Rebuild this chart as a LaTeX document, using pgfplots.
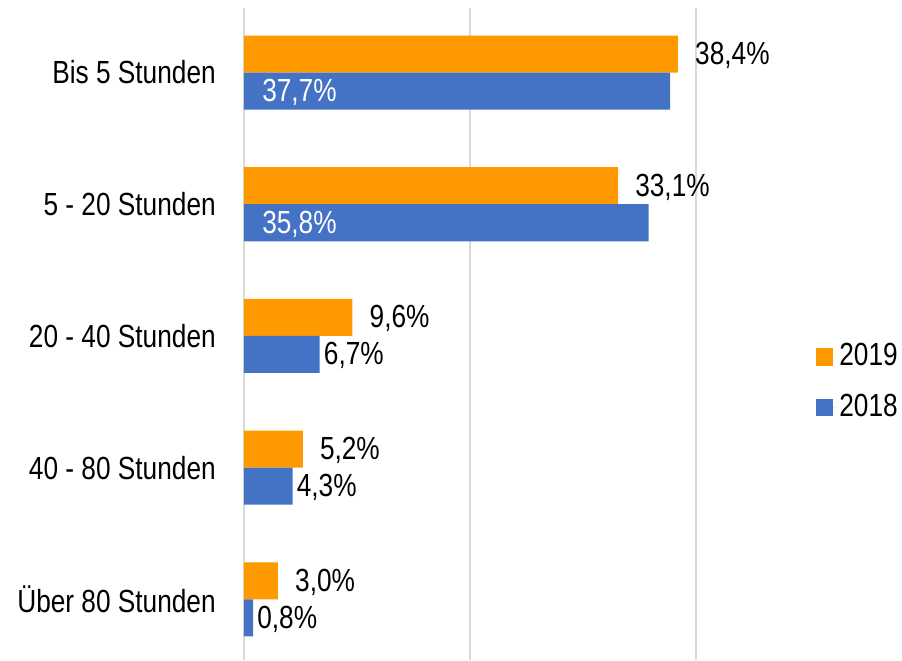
\documentclass[border=0pt]{standalone}
\usepackage{fontspec}
\setmainfont[FakeStretch=0.82]{Liberation Sans}
\usepackage{pgfplots}
\pgfplotsset{compat=1.18}
\definecolor{c2019}{HTML}{FF9900}
\definecolor{c2018}{HTML}{4472C4}
\definecolor{gridgray}{HTML}{D9D9D9}
\newcommand{\lbl}{\fontsize{24}{28}\selectfont}
\begin{document}
\lbl
\begin{tikzpicture}
\useasboundingbox (-183pt,0pt) rectangle (493.5pt,495pt);
\begin{axis}[
    scale only axis,
    width=423.75pt, height=489pt,
    xmin=0, xmax=50,
    ymin=-0.46, ymax=4.49,
    xbar, bar width=27.75pt,
    xtick={0,20,40}, xticklabels={,,},
    xmajorgrids, grid style={gridgray, line width=1.2pt},
    ytick={0,1,2,3,4},
    yticklabels={Über 80 Stunden, 40 - 80 Stunden, 20 - 40 Stunden, 5 - 20 Stunden, Bis 5 Stunden},
    yticklabel style={anchor=east, inner sep=0pt, xshift=-21pt},
    major tick length=0pt,
    axis line style={draw=none},
    /pgf/number format/.cd, use comma, fixed, fixed zerofill, precision=1, assume math mode=true,
    /pgfplots/.cd,
    nodes near coords={\pgfmathprintnumber{\pgfplotspointmeta}\%},
    nodes near coords style={inner sep=0pt, anchor=west},
    legend style={at={(1.012,0.426)}, anchor=west, draw=none, fill=none,
        inner sep=0pt, row sep=13.5pt},
    legend cell align=left,
    legend image code/.code={\fill[#1] (0pt,-6.4pt) rectangle (12.75pt,6.4pt); \path (12.75pt,0) -- (15.5pt,0);},
]
\addlegendimage{fill=c2019, draw=none}
\addlegendentry{2019}
\addlegendimage{fill=c2018, draw=none}
\addlegendentry{2018}
% 2019
\addplot[fill=c2019, draw=none, bar shift=13.875pt, forget plot,
    every node near coord/.append style={xshift=12.75pt, yshift=-1pt, text=black}]
    coordinates {(38.4,4) (33.1,3) (9.6,2) (5.2,1) (3.0,0)};
% 2018 bars
\addplot[fill=c2018, draw=none, bar shift=-13.875pt, forget plot, nodes near coords={}]
    coordinates {(37.7,4) (35.8,3) (6.7,2) (4.3,1) (0.8,0)};
% 2018 labels outside
\addplot[draw=none, fill=none, bar shift=-13.875pt, forget plot,
    every node near coord/.append style={xshift=3pt, yshift=-1pt, text=black}]
    coordinates {(6.7,2) (4.3,1) (0.8,0)};
% 2018 labels inside
\addplot[draw=none, fill=none, bar shift=-13.875pt, forget plot,
    point meta=explicit,
    every node near coord/.append style={xshift=13.5pt, yshift=-1pt, text=white}]
    table[x=x, y=y, meta=m] {
    x y m
    0 4 37.7
    0 3 35.8
    };
\end{axis}
\end{tikzpicture}
\end{document}
